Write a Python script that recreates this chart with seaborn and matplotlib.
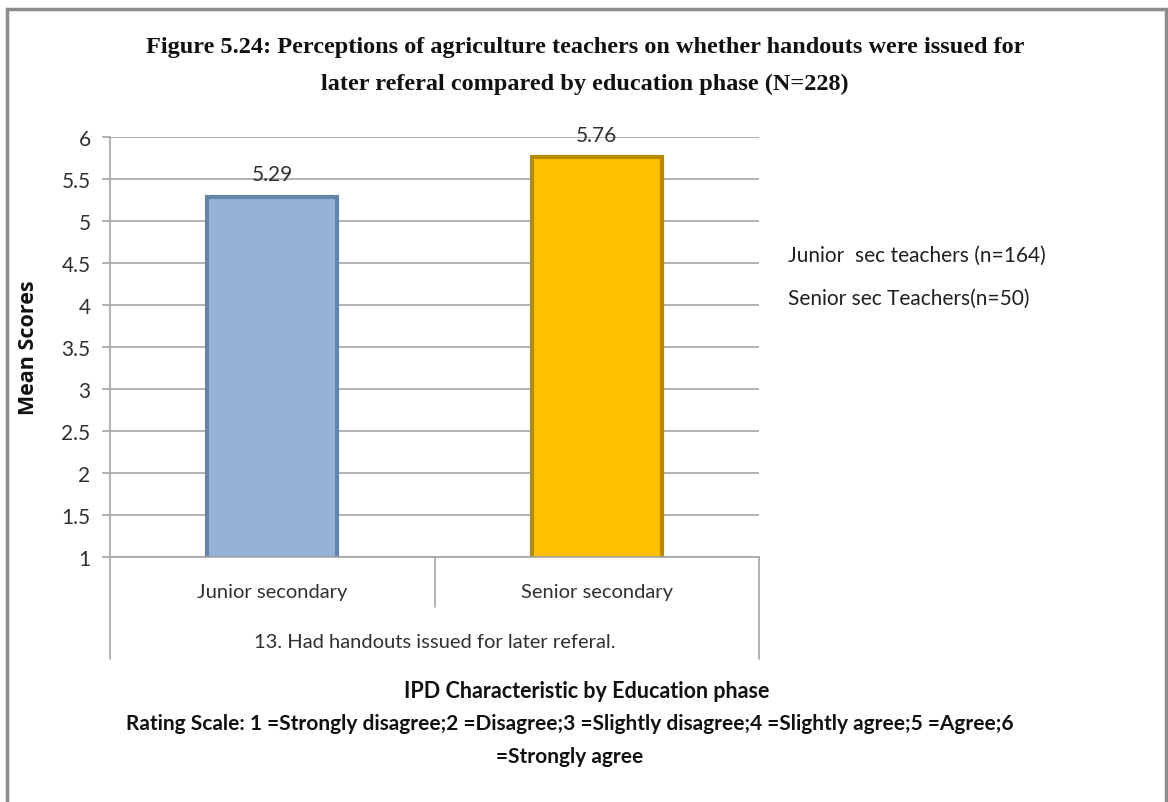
import seaborn as sns
import pandas as pd
import matplotlib.pyplot as plt
import matplotlib.transforms as mtransforms
from matplotlib.patches import Rectangle

# data
categories = ['Junior secondary', 'Senior secondary']
mean_scores = [5.29, 5.76]
legend_labels = ['Junior  sec teachers (n=164)', 'Senior sec Teachers(n=50)']
bar_colors = ['#95B3D7', '#FFC000']
edge_colors = ['#6683AA', '#B58A00']
y_ticks = [1, 1.5, 2, 2.5, 3, 3.5, 4, 4.5, 5, 5.5, 6]
y_tick_labels = ['1', '1.5', '2', '2.5', '3', '3.5', '4', '4.5', '5', '5.5', '6']

title = ('Figure 5.24: Perceptions of agriculture teachers on whether handouts were issued for\n'
         'later referal compared by education phase (N=228)')
group_label = '13. Had handouts issued for later referal.'
x_title = 'IPD Characteristic by Education phase'
scale_note = ('Rating Scale: 1 =Strongly disagree;2 =Disagree;3 =Slightly disagree;4 =Slightly agree;5 =Agree;6\n'
              '=Strongly agree')

df = pd.DataFrame({'phase': categories, 'score': mean_scores, 'group': legend_labels})

sns.set_theme(style='white')
plt.rcParams['font.family'] = ['Lato', 'DejaVu Sans']

fig = plt.figure(figsize=(11.68, 8.03), dpi=100)
ax = fig.add_axes([0.0942, 0.3051, 0.5557, 0.5230])

sns.barplot(data=df, x='phase', y='score', hue='group', palette=bar_colors,
            saturation=1, dodge=False, width=0.4, ax=ax, legend=True)

for patch, ec in zip(ax.patches, edge_colors):
    patch.set_edgecolor(ec)
    patch.set_linewidth(3)

for cont in ax.containers:
    ax.bar_label(cont, fmt='%.2f', padding=9, fontsize=15, color='#303030')

ax.set_ylim(1, 6)
ax.set_xlim(-0.5, 1.5)
ax.set_yticks(y_ticks)
ax.set_yticklabels(y_tick_labels, fontsize=15, color='#303030')
ax.set_xticks([])
ax.set_xlabel('')
ax.set_ylabel('Mean Scores', fontsize=15.5, fontweight='bold', family=['Open Sans', 'DejaVu Sans'],
              labelpad=16, color='#111111')
ax.yaxis.grid(True, color='#A6A6A6', linewidth=1.2)
ax.set_axisbelow(True)
ax.tick_params(axis='y', which='both', left=True, length=6, color='#A6A6A6', width=1.2, pad=8)
for side in ['top', 'right']:
    ax.spines[side].set_visible(False)
for side in ['left', 'bottom']:
    ax.spines[side].set_color('#A6A6A6')
    ax.spines[side].set_linewidth(1.2)

# category box under the axis
trans = mtransforms.blended_transform_factory(ax.transAxes, ax.transAxes)
ax.plot([0.5, 0.5], [0, -0.119], transform=trans, color='#A6A6A6', lw=1.2, clip_on=False)
ax.plot([0, 0], [0, -0.243], transform=trans, color='#A6A6A6', lw=1.2, clip_on=False)
ax.plot([1, 1], [0, -0.243], transform=trans, color='#A6A6A6', lw=1.2, clip_on=False)
for i, cat in enumerate(categories):
    ax.text(0.25 + 0.5 * i, -0.082, cat, transform=trans, ha='center', va='center',
            fontsize=14.5, color='#303030')
ax.text(0.5, -0.202, group_label, transform=trans, ha='center', va='center',
        fontsize=14.5, color='#303030')

leg = ax.legend(loc='upper left', bbox_to_anchor=(1.015, 0.787), frameon=False,
                fontsize=15, handlelength=0, handletextpad=0, labelspacing=1.1)
for h in leg.legend_handles:
    h.set_visible(False)
for t in leg.get_texts():
    t.set_color('#202020')

fig.text(0.501, 0.918, title, ha='center', va='center', fontsize=17.5, fontweight='bold',
         family=['Liberation Serif', 'DejaVu Serif'], linespacing=2.0, color='#111111')
fig.text(0.502, 0.139, x_title, ha='center', va='center', fontsize=15.5, fontweight='bold',
         color='#111111')
fig.text(0.488, 0.078, scale_note, ha='center', va='center', fontsize=15, fontweight='bold',
         linespacing=1.8, color='#111111')

# outer frame
fig.patches.append(Rectangle((0.006, -0.02), 0.992, 1.008, transform=fig.transFigure,
                             fill=False, edgecolor='#8C8C8C', linewidth=2.5))

fig.savefig('out.png', dpi=100)
